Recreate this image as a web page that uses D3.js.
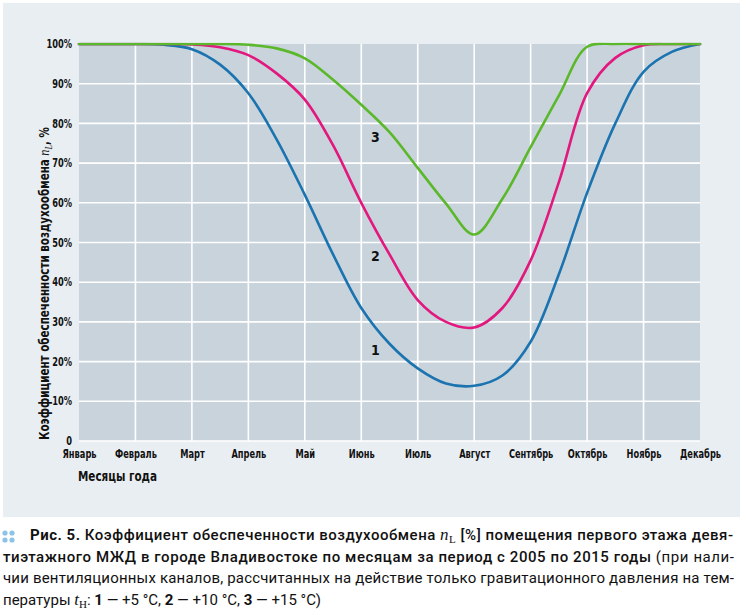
<!DOCTYPE html>
<html>
<head>
<meta charset="utf-8">
<script src="https://cdn.jsdelivr.net/npm/d3@7"></script>
<style>
  html, body { margin: 0; padding: 0; background: #ffffff; }
  svg { display: block; }
  .cond { font-family: "Liberation Sans Narrow", "DejaVu Sans Condensed", "Roboto", sans-serif; font-weight: 700; }
  .cap { font-family: "Roboto", "Noto Sans", sans-serif; font-size: 15px; fill: #111; }
</style>
</head>
<body>
<script>
// ---- data ----
const months = ["Январь", "Февраль", "Март", "Апрель", "Май", "Июнь", "Июль", "Август", "Сентябрь", "Октябрь", "Ноябрь", "Декабрь"];
const yTicks = [0, 10, 20, 30, 40, 50, 60, 70, 80, 90, 100];
// sample positions in months (0 = January, 0.5 = mid-January ...)
const samplePos = [0, 0.5, 1, 1.5, 2, 2.5, 3, 3.5, 4, 4.5, 5, 5.5, 6, 6.5, 7, 7.5, 8, 8.5, 9, 9.5, 10, 10.5, 11];
const series1 = [100, 100, 100, 99.8, 98.7, 94.8, 87.6, 76, 62, 47, 33.5, 24.5, 18.3, 14.5, 13.9, 16.5, 25, 42, 62.5, 80, 93, 98, 100];      // +5 °C
const series2 = [100, 100, 100, 100, 99.9, 99.2, 97.2, 92.6, 86, 74.5, 60, 47, 35.5, 30, 28.6, 33.5, 45.5, 65.2, 87.6, 96.5, 99.7, 100, 100]; // +10 °C
const series3 = [100, 100, 100, 100, 100, 100, 99.8, 98.9, 96.4, 91, 84.7, 77.8, 68.8, 59.8, 52, 61, 74, 87, 99.3, 100, 100, 100, 100]; // +15 °C
const seriesNames = ["1", "2", "3"];
const seriesColors = ["#1b74b0", "#e2187f", "#5ab82a"];
const labelPos = [{m: 5, v: 23}, {m: 5, v: 46.5}, {m: 5, v: 76.5}];

const W = 746, H = 615;
const plot = {left: 79, top: 44, right: 700, bottom: 441};

const svg = d3.select("body").append("svg").attr("width", W).attr("height", H);

// panel background
svg.append("rect").attr("x", 3).attr("y", 3).attr("width", 737).attr("height", 514).attr("fill", "#e9eef2");

const x = d3.scaleLinear().domain([0, months.length - 1]).range([plot.left, plot.right]);
const y = d3.scaleLinear().domain([0, 100]).range([plot.bottom, plot.top]);
const monthIdx = months.map((m, i) => i);

// plot area
svg.append("rect").attr("x", plot.left).attr("y", plot.top)
  .attr("width", plot.right - plot.left).attr("height", plot.bottom - plot.top)
  .attr("fill", "#c9d3dc");

// grid
const grid = svg.append("g").attr("stroke", "#ffffff").attr("stroke-width", 1.6);
grid.selectAll("line.h").data(yTicks.filter(d => d < 100)).enter().append("line")
  .attr("x1", plot.left).attr("x2", plot.right)
  .attr("y1", d => y(d)).attr("y2", d => y(d));
grid.selectAll("line.v").data(monthIdx.slice(1, -1)).enter().append("line")
  .attr("y1", plot.top).attr("y2", plot.bottom)
  .attr("x1", d => x(d)).attr("x2", d => x(d));

// axes
const sx = 0.8;
const yAxis = svg.append("g").attr("transform", `translate(${plot.left},0)`)
  .call(d3.axisLeft(y).tickValues(yTicks).tickSize(0).tickPadding(7)
    .tickFormat(d => d === 0 ? "0" : d + "%"));
yAxis.select(".domain").remove();
yAxis.selectAll("text").attr("class", "cond").style("font-size", "11.5px").attr("fill", "#111")
  .attr("x", -7 / sx).attr("transform", `scale(${sx},1)`);

const xAxis = svg.append("g").attr("transform", `translate(0,${plot.bottom})`)
  .call(d3.axisBottom(x).tickValues(monthIdx).tickFormat(i => months[i]).tickSize(0).tickPadding(9));
xAxis.select(".domain").remove();
xAxis.selectAll("text").attr("class", "cond").style("font-size", "11.5px").attr("fill", "#111")
  .attr("transform", `scale(${sx},1)`);

// axis titles
svg.append("text").attr("class", "cond").attr("x", 78).attr("y", 481)
  .style("font-size", "14px").attr("fill", "#111")
  .attr("textLength", 79).attr("lengthAdjust", "spacingAndGlyphs").text("Месяцы года");

const yt = svg.append("text").attr("class", "cond")
  .attr("transform", "translate(49,283.5) rotate(-90)")
  .attr("text-anchor", "middle").style("font-size", "14px").attr("fill", "#111")
  .attr("textLength", 313).attr("lengthAdjust", "spacingAndGlyphs");
yt.append("tspan").text("Коэффициент обеспеченности воздухообмена ");
yt.append("tspan").attr("font-family", "Liberation Serif, serif").attr("font-style", "italic").attr("font-weight", 400).style("font-size", "15px").text("n");
yt.append("tspan").attr("font-family", "Liberation Serif, serif").attr("font-style", "italic").attr("font-weight", 400).style("font-size", "10px").attr("dy", 3).text("L");
yt.append("tspan").attr("dy", -3).text(", %");

// clip so that the spline never rises above the 100 % line
svg.append("clipPath").attr("id", "clip").append("rect")
  .attr("x", plot.left - 3).attr("y", plot.top - 1.3)
  .attr("width", plot.right - plot.left + 6).attr("height", plot.bottom - plot.top + 4);

// lines
const line = d3.line().x((d, i) => x(samplePos[i])).y(d => y(d)).curve(d3.curveCatmullRom.alpha(0.5));
const lines = svg.append("g").attr("clip-path", "url(#clip)");
[series1, series2, series3].forEach((s, k) => {
  lines.append("path").datum(s).attr("d", line)
    .attr("fill", "none").attr("stroke", seriesColors[k]).attr("stroke-width", 2.6)
    .attr("stroke-linejoin", "round").attr("stroke-linecap", "round");
});

// curve labels
seriesNames.forEach((n, k) => {
  svg.append("text").attr("class", "cond")
    .attr("x", x(labelPos[k].m) + 14).attr("y", y(labelPos[k].v))
    .attr("text-anchor", "middle").attr("dominant-baseline", "central")
    .style("font-size", "14px").attr("fill", "#111").text(n);
});

// caption
const dots = svg.append("g").attr("fill", "#8ec3e8");
[[5, 533], [12, 533], [5, 540], [12, 540]].forEach(p => dots.append("circle").attr("cx", p[0]).attr("cy", p[1]).attr("r", 2.6));

function capLine(yPos, x0, len, parts) {
  const t = svg.append("text").attr("class", "cap").attr("x", x0).attr("y", yPos);
  if (len) t.attr("textLength", len).attr("lengthAdjust", "spacing");
  parts.forEach(p => {
    const s = t.append("tspan").text(p.t);
    if (p.w) s.attr("font-weight", p.w);
    if (p.it) s.attr("font-family", "Liberation Serif, serif").attr("font-style", "italic").attr("font-weight", 400).style("font-size", "17px");
    if (p.sub) s.attr("font-family", "Liberation Serif, serif").attr("font-weight", 400).style("font-size", "11px").attr("dy", 3);
    if (p.dy) s.attr("dy", p.dy);
  });
  return t;
}
capLine(540, 30, 703, [
  {t: "Рис. 5. ", w: 700},
  {t: "Коэффициент обеспеченности воздухообмена ", w: 500},
  {t: "n", it: true},
  {t: "L", sub: true},
  {t: " [%] помещения первого этажа девя-", w: 500, dy: -3}
]);
capLine(562, 3, 731, [
  {t: "тиэтажного МЖД в городе Владивостоке по месяцам за период с 2005 по 2015 годы", w: 500},
  {t: " (при нали-", w: 400}
]);
capLine(583, 3, 731, [
  {t: "чии вентиляционных каналов, рассчитанных на действие только гравитационного давления на тем-", w: 400}
]);
capLine(605, 3, null, [
  {t: "пературы ", w: 400},
  {t: "t", it: true},
  {t: "Н", sub: true},
  {t: ": ", w: 400, dy: -3},
  {t: "1", w: 700},
  {t: " — +5 °C, ", w: 400},
  {t: "2", w: 700},
  {t: " — +10 °C, ", w: 400},
  {t: "3", w: 700},
  {t: " — +15 °C)", w: 400}
]);
</script>
</body>
</html>
